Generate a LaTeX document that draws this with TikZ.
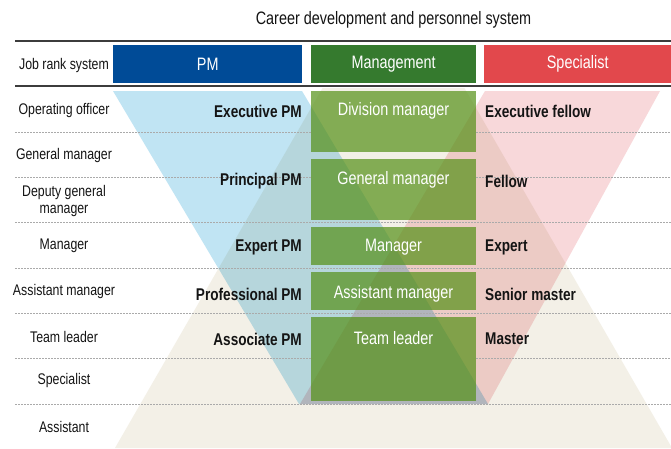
\documentclass[tikz,border=0pt]{standalone}
\usepackage{fontspec}
\setmainfont{Liberation Sans}[FakeStretch=0.8]
\definecolor{hblue}{RGB}{0,75,151}
\definecolor{hgreen}{RGB}{53,122,46}
\definecolor{hred}{RGB}{226,72,76}
\definecolor{fblue}{RGB}{192,228,243}
\definecolor{fpink}{RGB}{248,216,218}
\definecolor{fbeige}{RGB}{243,240,231}
\definecolor{fgreen}{RGB}{84,144,22}
\definecolor{rulegray}{RGB}{60,60,60}
\definecolor{dashgray}{RGB}{170,170,170}
\definecolor{txt}{RGB}{20,20,20}
\begin{document}
\begin{tikzpicture}[x=1pt,y=-1pt,
  hdr/.style={draw=none,inner sep=0pt,minimum height=38pt,text=white,font=\fontsize{18}{18}\selectfont,anchor=north west},
  gbox/.style={fill=fgreen,fill opacity=0.7,draw=none,inner sep=0pt,minimum width=165pt,anchor=north west},
  gtext/.style={text=white,font=\fontsize{18}{18}\selectfont,inner sep=0pt},
  ltext/.style={text=txt,font=\bfseries\fontsize{17}{17}\selectfont,inner sep=0pt,anchor=east},
  rtext/.style={text=txt,font=\bfseries\fontsize{17}{17}\selectfont,inner sep=0pt,anchor=west},
  rowtext/.style={text=txt,font=\fontsize{15.4}{17.5}\selectfont,inner sep=0pt,align=center},
  solidrule/.style={draw=rulegray,line width=1.2pt},
  dashrule/.style={draw=dashgray,line width=0.8pt,dash pattern=on 2pt off 1pt}
]
\useasboundingbox (0,0) rectangle (671,448);
\fill[white] (0,0) rectangle (671,448);

% background shapes
\begin{scope}
  \clip (0,88) rectangle (671,448);
  \fill[fbeige] (393.5,-35) -- (672,448) -- (115,448) -- cycle;
\end{scope}
\fill[fblue,blend mode=multiply] (113,91) -- (302,91) -- (488,404) -- (299,404) -- cycle;
\fill[fpink,blend mode=multiply] (660,91) -- (485,91) -- (300,404) -- (488,404) -- cycle;

% title
\node[text=txt,font=\fontsize{18}{18}\selectfont,inner sep=0pt] (title) at (393.5,20) {Career development and personnel system};

% rules
\coordinate (r0l) at (15,41); \coordinate (r0r) at (671,41);
\coordinate (r1l) at (15,86); \coordinate (r1r) at (671,86);
\draw[solidrule] (r0l) -- (r0r);
\draw[solidrule] (r1l) -- (r1r);
% dashed rules in the gaps between boxes run across
\foreach \yy [count=\i] in {222,268,313,404}{
  \coordinate (d\i l) at (15,\yy); \coordinate (d\i r) at (671,\yy);
  \draw[dashrule] (d\i l) -- (d\i r);
}
% dashed rules that pass behind the green boxes
\foreach \yy [count=\i] in {132,177,358}{
  \coordinate (e\i l) at (15,\yy); \coordinate (e\i a) at (311,\yy);
  \coordinate (e\i b) at (476,\yy); \coordinate (e\i r) at (671,\yy);
  \draw[dashrule] (e\i l) -- (e\i a);
  \draw[dashrule] (e\i b) -- (e\i r);
}

% header
\node[hdr,fill=hblue,minimum width=189pt] (hpm) at (113,45) {PM};
\node[hdr,fill=hgreen,minimum width=165pt] (hmg) at (311,45) {Management};
\node[hdr,fill=hred,minimum width=187pt] (hsp) at (484,45) {Specialist};

% green boxes
\node[gbox,minimum height=61pt] (b1) at (311,91) {};
\node[gbox,minimum height=61pt] (b2) at (311,159) {};
\node[gbox,minimum height=38pt] (b3) at (311,227) {};
\node[gbox,minimum height=38pt] (b4) at (311,272) {};
\node[gbox,minimum height=84pt] (b5) at (311,317) {};

\node[gtext] (g1) at (393.5,111) {Division manager};
\node[gtext] (g2) at (393.5,180) {General manager};
\node[gtext] (g3) at (393.5,247) {Manager};
\node[gtext] (g4) at (393.5,294) {Assistant manager};
\node[gtext] (g5) at (393.5,338) {Team leader};

% PM labels
\node[ltext] (p1) at (302,111) {Executive PM};
\node[ltext] (p2) at (302,181) {Principal PM};
\node[ltext] (p3) at (302,247) {Expert PM};
\node[ltext] (p4) at (302,294) {Professional PM};
\node[ltext] (p5) at (302,339) {Associate PM};

% Specialist labels
\node[rtext] (s1) at (485,111) {Executive fellow};
\node[rtext] (s2) at (485,181) {Fellow};
\node[rtext] (s3) at (485,247) {Expert};
\node[rtext] (s4) at (485,294) {Senior master};
\node[rtext] (s5) at (485,339) {Master};

% row labels
\node[rowtext] (j0) at (64,66) {Job rank system};
\node[rowtext] (j1) at (64,111) {Operating officer};
\node[rowtext] (j2) at (64,156) {General manager};
\node[rowtext] (j3) at (64,201) {Deputy general\\manager};
\node[rowtext] (j4) at (64,246) {Manager};
\node[rowtext] (j5) at (64,292) {Assistant manager};
\node[rowtext] (j6) at (64,337) {Team leader};
\node[rowtext] (j7) at (64,381) {Specialist};
\node[rowtext] (j8) at (64,427) {Assistant};
\end{tikzpicture}
\end{document}
